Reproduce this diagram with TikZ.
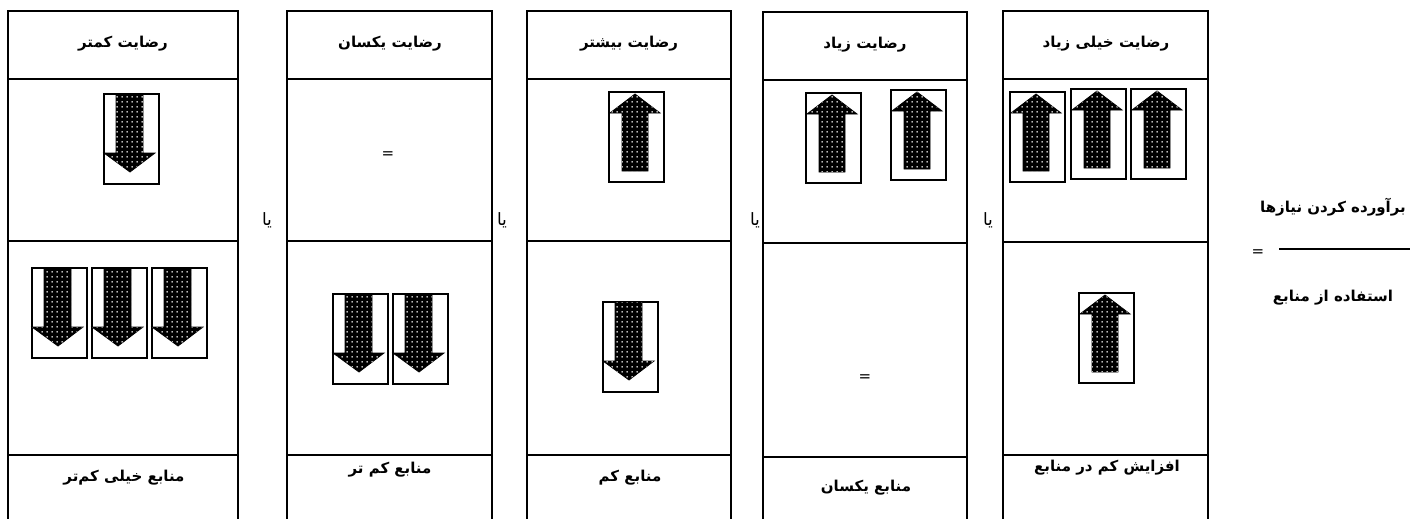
\documentclass[tikz,border=0pt]{standalone}
\usepackage{fontspec}
\usetikzlibrary{patterns.meta}
\TeXXeTstate=1
\newfontfamily\fa[Script=Arabic]{DejaVu Sans}

\tikzdeclarepattern{
  name=wdots,
  type=uncolored,
  bottom left={(0pt,0pt)},
  top right={(5pt,5pt)},
  tile size={(5pt,5pt)},
  code={\fill (2.5pt,2.5pt) circle (0.95pt);}
}

\tikzset{
  colline/.style={line width=1.6pt, draw=black},
  boxline/.style={line width=1.2pt, draw=black},
  arrfill/.style={fill=black, draw=black, line width=0.8pt, postaction={pattern=wdots, pattern color=white}},
  hdr/.style={font=\fa\bfseries\fontsize{15}{18}\selectfont, inner sep=1pt},
  orlbl/.style={font=\fa\fontsize{17}{20}\selectfont, inner sep=1pt},
  eqlbl/.style={font=\fa\fontsize{15}{18}\selectfont, inner sep=1pt},
  uparr/.pic={
    \draw[boxline] (0,0) rectangle (55,90);
    \path[arrfill] (13,79) -- (13,21) -- (1,21) -- (26,2) -- (51,21) -- (39,21) -- (39,79) -- cycle;
  },
  dnarr/.pic={
    \draw[boxline] (0,0) rectangle (55,90);
    \path[arrfill] (12,0) -- (12,59) -- (0,59) -- (26,78) -- (51,59) -- (39,59) -- (39,0) -- cycle;
  }
}

\begin{document}
\begin{tikzpicture}[x=1pt, y=-1pt]
\useasboundingbox[fill=white] (0,0) rectangle (1421,519);

% columns
\foreach \l/\r/\t/\a/\b/\c in {8/238/11/79/241/455, 287/492/11/79/241/455, 527/731/11/79/241/455, 763/967/12/80/243/457, 1003/1208/11/79/242/455}{
  \draw[colline] (\l,519) -- (\l,\t) -- (\r,\t) -- (\r,519);
  \draw[colline] (\l,\a) -- (\r,\a);
  \draw[colline] (\l,\b) -- (\r,\b);
  \draw[colline] (\l,\c) -- (\r,\c);
}

% headers
\node[hdr] (h1) at (123,44) {\beginR رضایت کمتر\endR};
\node[hdr] (h2) at (390,44) {\beginR رضایت یکسان\endR};
\node[hdr] (h3) at (629,44) {\beginR رضایت بیشتر\endR};
\node[hdr] (h4) at (865,45) {\beginR رضایت زیاد\endR};
\node[hdr] (h5) at (1106,44) {\beginR رضایت خیلی زیاد\endR};

% footers
\node[hdr] (f1) at (124,478) {\beginR منابع خیلی کم‌تر\endR};
\node[hdr] (f2) at (390,470) {\beginR منابع کم تر\endR};
\node[hdr] (f3) at (630,478) {\beginR منابع کم\endR};
\node[hdr] (f4) at (866,488) {\beginR منابع یکسان\endR};
\node[hdr] (f5) at (1107,468) {\beginR افزایش کم در منابع\endR};

% "or" labels
\node[orlbl] (o1) at (267,220) {\beginR یا\endR};
\node[orlbl] (o2) at (502,220) {\beginR یا\endR};
\node[orlbl] (o3) at (755,220) {\beginR یا\endR};
\node[orlbl] (o4) at (988,220) {\beginR یا\endR};

% equals in cells
\node[eqlbl] (e2) at (388,155) {=};
\node[eqlbl] (e4) at (865,378) {=};

% arrows
\pic (a1) at (104,94) {dnarr};
\pic (a2) at (32,268) {dnarr};
\pic (a3) at (92,268) {dnarr};
\pic (a4) at (152,268) {dnarr};
\pic (a5) at (333,294) {dnarr};
\pic (a6) at (393,294) {dnarr};
\pic (a7) at (609,92) {uparr};
\pic (a8) at (603,302) {dnarr};
\pic (a9) at (806,93) {uparr};
\pic (a10) at (891,90) {uparr};
\pic (a11) at (1010,92) {uparr};
\pic (a12) at (1071,89) {uparr};
\pic (a13) at (1131,89) {uparr};
\pic (a14) at (1079,293) {uparr};

% formula on the right
\node[hdr] (num) at (1333,207) {\beginR برآورده کردن نیازها\endR};
\node[hdr] (den) at (1333,298) {\beginR استفاده از منابع\endR};
\coordinate (la) at (1279,249);
\coordinate (lb) at (1410,249);
\draw[line width=1.2pt] (la) -- (lb);
\node[eqlbl] (eq) at (1258,253) {=};
\end{tikzpicture}
\end{document}
